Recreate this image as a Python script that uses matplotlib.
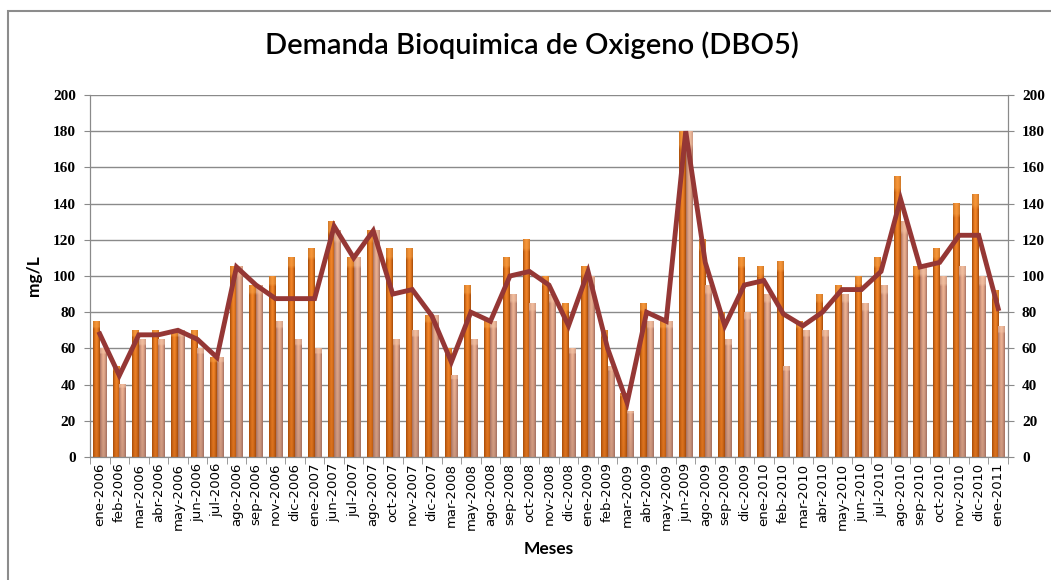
import matplotlib
matplotlib.use('Agg')
import matplotlib.pyplot as plt
import numpy as np
from matplotlib.patches import Rectangle
from matplotlib.colors import to_rgb

meses = ['ene-2006', 'feb-2006', 'mar-2006', 'abr-2006', 'may-2006', 'jun-2006',
         'jul-2006', 'ago-2006', 'sep-2006', 'nov-2006', 'dic-2006', 'ene-2007',
         'jun-2007', 'jul-2007', 'ago-2007', 'oct-2007', 'nov-2007', 'dic-2007',
         'mar-2008', 'may-2008', 'ago-2008', 'sep-2008', 'oct-2008', 'nov-2008',
         'dic-2008', 'ene-2009', 'feb-2009', 'mar-2009', 'abr-2009', 'may-2009',
         'jun-2009', 'ago-2009', 'sep-2009', 'dic-2009', 'ene-2010', 'feb-2010',
         'mar-2010', 'abr-2010', 'may-2010', 'jun-2010', 'jul-2010', 'ago-2010',
         'sep-2010', 'oct-2010', 'nov-2010', 'dic-2010', 'ene-2011']

entrada = [75, 50, 70, 70, 70, 70, 55, 105, 95, 100, 110, 115,
           130, 110, 125, 115, 115, 78, 60, 95, 75, 110, 120, 100,
           85, 105, 70, 35, 85, 75, 180, 120, 80, 110, 105, 108,
           75, 90, 95, 100, 110, 155, 105, 115, 140, 145, 92]

salida = [60, 40, 65, 65, 70, 60, 55, 105, 95, 75, 65, 60,
          125, 110, 125, 65, 70, 78, 45, 65, 75, 90, 85, 90,
          60, 100, 50, 25, 75, 75, 180, 95, 65, 80, 90, 50,
          70, 70, 90, 85, 95, 130, 105, 100, 105, 100, 72]

promedio = [68, 45, 67.5, 67.5, 70, 65, 55, 105, 95, 87.5, 87.5, 87.5,
            127.5, 110, 125, 90, 92.5, 78, 52.5, 80, 75, 100, 102.5, 95,
            72.5, 102.5, 60, 30, 80, 75, 180, 107.5, 72.5, 95, 97.5, 79,
            72.5, 80, 92.5, 92.5, 102.5, 142.5, 105, 107.5, 122.5, 122.5, 82]


def gradiente(ax, bar, lado, centro, arriba, abajo):
    # bordes mas oscuros + degradado vertical
    x0, w, h = bar.get_x(), bar.get_width(), bar.get_height()
    t = np.linspace(-1, 1, 20)
    k = np.abs(t) ** 1.5
    cols = np.array([to_rgb(centro)]) * (1 - k[:, None]) + np.array([to_rgb(lado)]) * k[:, None]
    v = np.linspace(0, 1, 60)[:, None, None]
    img = cols[None, :, :] * (1 - v * 0.4) + np.array(to_rgb(abajo))[None, None, :] * v * 0.4
    top = np.array(to_rgb(arriba))
    img[:3] = img[:3] * 0.5 + top * 0.5
    ax.imshow(img, extent=[x0, x0 + w, 0, h], aspect='auto', origin='upper',
              zorder=2, interpolation='bilinear')


fig = plt.figure(figsize=(10.51, 5.8), dpi=100)
fig.patches.append(Rectangle((8 / 1051, -0.1), 1.2, 1 - 11 / 580 + 0.1,
                             transform=fig.transFigure, fill=False,
                             edgecolor='#8c8c8c', linewidth=1.5))

ax = fig.add_axes([90 / 1051, 123 / 580, 918 / 1051, 362 / 580])
x = np.arange(len(meses))
w = 0.34

b1 = ax.bar(x - w / 2, entrada, width=w, color='#E36C0A', zorder=2)
b2 = ax.bar(x + w / 2, salida, width=w, color='#E6A784', zorder=2)
for b in b1:
    gradiente(ax, b, '#A34A08', '#F7882A', '#F8A548', '#B0500C')
for b in b2:
    gradiente(ax, b, '#A87060', '#F0B494', '#F5C7A8', '#9C7060')

ax.plot(x, promedio, color='#953735', linewidth=3.5, zorder=4,
        solid_joinstyle='miter')

ax.set_xlim(-0.5, len(meses) - 0.5)
ax.set_ylim(0, 200)
ax.set_yticks(range(0, 201, 20))
ax.grid(axis='y', color='#8a8a8a', linewidth=1, zorder=0)
ax.set_axisbelow(True)

ax.set_xticks(x)
ax.set_xticklabels(meses, rotation=90, fontsize=9.5, family='DejaVu Sans')
ax.set_xticks(np.arange(-0.5, len(meses), 1), minor=True)
ax.tick_params(axis='x', which='major', length=0, pad=4)
ax.tick_params(axis='x', which='minor', length=5, color='#8a8a8a')
ax.tick_params(axis='y', length=4, color='#8a8a8a', labelsize=11, pad=6)
for lbl in ax.get_yticklabels():
    lbl.set_family('Liberation Serif')
    lbl.set_weight('bold')

ax.spines['top'].set_visible(False)
for s in ['left', 'bottom', 'right']:
    ax.spines[s].set_color('#8a8a8a')

ax2 = ax.twinx()
ax2.set_ylim(0, 200)
ax2.set_yticks(range(0, 201, 20))
ax2.tick_params(axis='y', length=4, color='#8a8a8a', labelsize=11, pad=6)
for lbl in ax2.get_yticklabels():
    lbl.set_family('Liberation Serif')
    lbl.set_weight('bold')
ax2.spines['top'].set_visible(False)
for s in ['left', 'bottom', 'right']:
    ax2.spines[s].set_color('#8a8a8a')

ax.set_ylabel('mg/L', fontsize=12.5, fontweight='bold', family='Lato', labelpad=8)
ax.set_xlabel('Meses', fontsize=12.5, fontweight='bold', family='Lato', labelpad=8)
fig.text(0.506, 0.922, 'Demanda Bioquimica de Oxigeno (DBO5)', ha='center',
         va='center', fontsize=21, family='Lato', fontweight='semibold')

plt.savefig('out.png', dpi=100)
